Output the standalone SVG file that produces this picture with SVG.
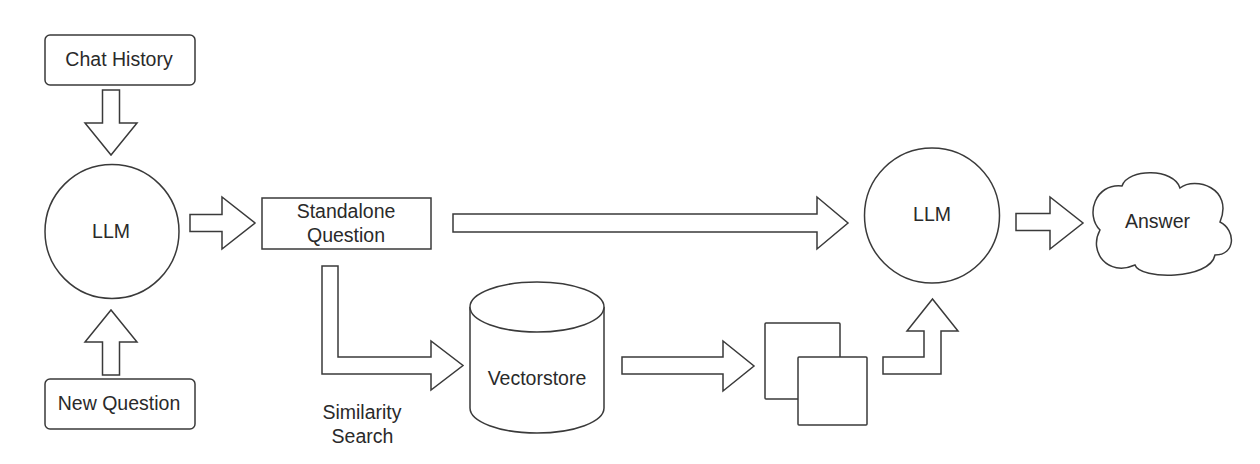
<svg xmlns="http://www.w3.org/2000/svg" width="1260" height="464" viewBox="0 0 1260 464">
<style>
.s{fill:#fff;stroke:#3a3a3a;stroke-width:1.5;stroke-linejoin:miter}
.t{font-family:"Liberation Sans",Arial,sans-serif;font-size:19.5px;fill:#2a2a2a;text-anchor:middle}
</style>
<rect width="1260" height="464" fill="#fff"/>
<g id="connectors">
<polygon class="s" points="102.5,90 119.5,90 119.5,123 137,123 111,155 85,123 102.5,123"/>
<polygon class="s" points="102.5,375 119.5,375 119.5,342 137,342 111,310 85,342 102.5,342"/>
<polygon class="s" points="190,214.5 222,214.5 222,197 255,223 222,249 222,231.5 190,231.5"/>
<polygon class="s" points="453,214 817,214 817,197 848,223 817,249 817,232 453,232"/>
<polygon class="s" points="322,266 338,266 338,357 431,357 431,341 463,365.5 431,390 431,374 322,374"/>
<polygon class="s" points="622,357 723,357 723,341 754,366 723,391 723,374 622,374"/>
<polygon class="s" points="883,357 924,357 924,331 907,331 932.5,299 958,331 941,331 941,374 883,374"/>
<polygon class="s" points="1016,213.5 1050,213.5 1050,197 1083,223 1050,249 1050,230.5 1016,230.5"/>
</g>
<g id="chat-history">
<rect class="s" x="45" y="35" width="150" height="50" rx="5"/>
<text class="t" x="119" y="66">Chat History</text>
</g>
<g id="new-question">
<rect class="s" x="45" y="379" width="150" height="50" rx="5"/>
<text class="t" x="119" y="410">New Question</text>
</g>
<g id="llm1">
<circle class="s" cx="112" cy="231.5" r="67"/>
<text class="t" x="111" y="238">LLM</text>
</g>
<g id="standalone-question">
<rect class="s" x="262" y="198" width="169" height="51"/>
<text class="t" x="346" y="218">Standalone</text>
<text class="t" x="346" y="242">Question</text>
</g>
<g id="similarity-label">
<text class="t" x="362" y="419">Similarity</text>
<text class="t" x="362.5" y="443">Search</text>
</g>
<g id="vectorstore">
<path class="s" d="M470,307 L470,408 A67,25 0 0 0 604,408 L604,307 A67,25 0 0 0 470,307 Z"/>
<path class="s" fill="none" d="M470,307 A67,25 0 0 0 604,307"/>
<text class="t" x="537" y="385">Vectorstore</text>
</g>
<g id="documents">
<rect class="s" x="765" y="323" width="75" height="76" rx="1"/>
<rect class="s" x="798" y="357" width="69" height="68" rx="1"/>
</g>
<g id="llm2">
<circle class="s" cx="932" cy="215.5" r="67.5"/>
<text class="t" x="932" y="221">LLM</text>
</g>
<g id="answer">
<path class="s" d="M1122,186 C1128,168 1174,168 1180,188 C1195,176 1234,188 1220,222 C1236,230 1236,255 1215,255 C1210,280 1140,280 1135,265 C1108,277 1088,252 1100,230 C1085,215 1095,183 1122,186 Z"/>
<text class="t" x="1157.5" y="228">Answer</text>
</g>
</svg>
